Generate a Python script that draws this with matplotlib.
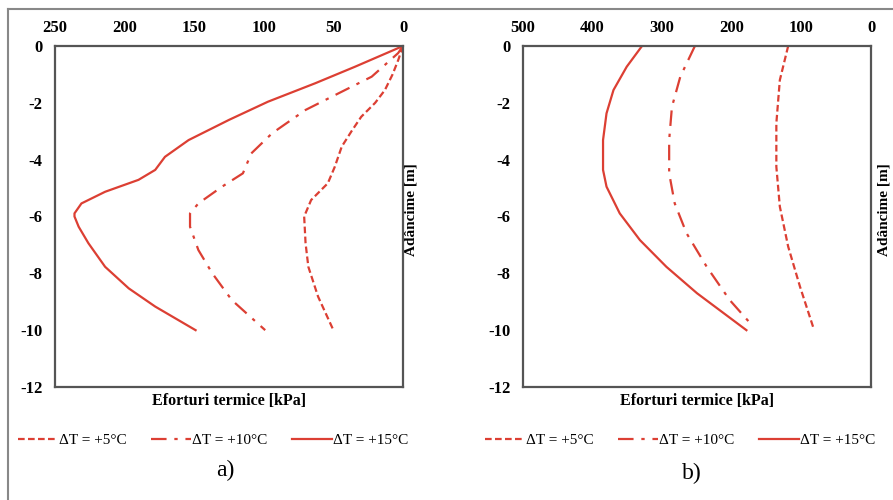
import matplotlib
matplotlib.use("Agg")
import matplotlib.pyplot as plt
from matplotlib.lines import Line2D

plt.rcParams["font.family"] = ["Liberation Serif", "DejaVu Serif"]
plt.rcParams["axes.unicode_minus"] = False

RED = "#dc3f33"
SPINE = "#555555"

# panel a) - thermal stresses (kPa) vs depth (m)
a_depth5 = [0, -0.49, -1.0, -1.55, -2.0, -2.49, -3.0, -3.54, -4.25, -4.83, -5.42, -6.0, -6.94, -7.77, -8.82, -10.0]
a_dt5 = [0, 3.4, 7.5, 13, 20, 30, 37, 44, 49, 54, 66, 71, 70, 68, 61, 50]
a_depth10 = [0, -0.25, -1.08, -1.67, -2.25, -3.07, -3.78, -4.48, -4.95, -5.54, -5.89, -6.36, -7.18, -8.0, -8.94, -10.0]
a_dt10 = [0, 3.5, 22.5, 46.5, 70, 94, 109, 115, 130, 147, 153, 153, 147, 137, 123, 99]
a_depth15 = [0, -0.73, -1.31, -1.96, -2.60, -3.31, -3.9, -4.36, -4.71, -5.13, -5.54, -5.89, -6.0,
             -6.36, -6.94, -7.77, -8.53, -9.17, -10.0]
a_dt15 = [0, 34.5, 63, 97, 125, 154, 171, 178, 190, 214, 231, 236, 236,
          233, 226, 214, 197, 178, 149]

# panel b)
b_depth5 = [0, -1.2, -2.72, -4.25, -5.65, -7.06, -8.47, -9.9]
b_dt5 = [119, 131, 136, 136, 131, 119, 102, 83]
b_depth10 = [0, -1.08, -2.14, -3.31, -4.48, -5.54, -6.59, -7.77, -8.94, -9.88]
b_dt10 = [253, 274, 286, 290, 290, 282, 265, 236, 203, 169]
b_depth15 = [0, -0.73, -1.55, -2.37, -3.31, -4.36, -4.95, -5.89, -6.83, -7.77, -8.70, -10.0]
b_dt15 = [329, 351, 370, 380, 385, 385, 380, 361, 332, 294, 250, 179]

labels = ["ΔT = +5°C", "ΔT = +10°C", "ΔT = +15°C"]
styles = [(0, (3, 1.5)), (0, (7, 3.5, 1.5, 3.5)), "-"]

fig = plt.figure(figsize=(8.93, 5), dpi=100)

# outer frame (only top and left edges are visible in the original)
fig.add_artist(Line2D([8 / 893, 1], [1 - 9 / 500, 1 - 9 / 500], color="#888888", lw=1.5))
fig.add_artist(Line2D([8 / 893, 8 / 893], [0, 1 - 9 / 500], color="#888888", lw=1.5))


def setup(ax, xmax, step, ylab_x):
    ax.set_xlim(xmax, 0)
    ax.set_ylim(-12, 0)
    ax.set_xticks(range(0, xmax + 1, step))
    ax.set_yticks(range(-12, 1, 2))
    ax.xaxis.tick_top()
    ax.tick_params(axis="x", length=0, pad=7, labelsize=12)
    ax.tick_params(axis="y", length=0, pad=9, labelsize=12)
    for lab in ax.get_xticklabels() + ax.get_yticklabels():
        lab.set_fontweight("bold")
    for sp in ax.spines.values():
        sp.set_color(SPINE)
        sp.set_linewidth(1.6)
    ax.set_xlabel("Eforturi termice [kPa]", fontsize=11.5, fontweight="bold")
    ax.xaxis.set_label_position("bottom")
    ax.xaxis.labelpad = 4
    ax.set_ylabel("Adâncime [m]", fontsize=11, fontweight="bold", rotation=90)
    ax.yaxis.set_label_coords(ylab_x, 0.52)


h = 341 / 500
w = 348 / 893
bottom = 113 / 500
kw = dict(color=RED, lw=1.6, solid_joinstyle="round", dash_joinstyle="round")

ax1 = fig.add_axes([55 / 893, bottom, w, h])
ax1.plot(a_dt5, a_depth5, ls=styles[0], label=labels[0], **kw)
ax1.plot(a_dt10, a_depth10, ls=styles[1], label=labels[1], **kw)
ax1.plot(a_dt15, a_depth15, ls=styles[2], label=labels[2], **kw)
setup(ax1, 250, 50, 1.041)

ax2 = fig.add_axes([523 / 893, bottom, w, h])
ax2.plot(b_dt5, b_depth5, ls=styles[0], label=labels[0], **kw)
ax2.plot(b_dt10, b_depth10, ls=styles[1], label=labels[1], **kw)
ax2.plot(b_dt15, b_depth15, ls=styles[2], label=labels[2], **kw)
setup(ax2, 500, 100, 1.056)

for ax, cx, tag, ty in [(ax1, 213 / 893, "a)", 1 - 470 / 500), (ax2, 680 / 893, "b)", 1 - 473 / 500)]:
    fig.legend(*ax.get_legend_handles_labels(), loc="center",
               bbox_to_anchor=(cx, 1 - 440 / 500), ncol=3, frameon=False,
               fontsize=11, handlelength=2.6, handletextpad=0.1,
               columnspacing=1.6)
    fig.text(cx + 12 / 893, ty, tag, ha="center", va="center", fontsize=17)

fig.savefig("out.png", dpi=100)
